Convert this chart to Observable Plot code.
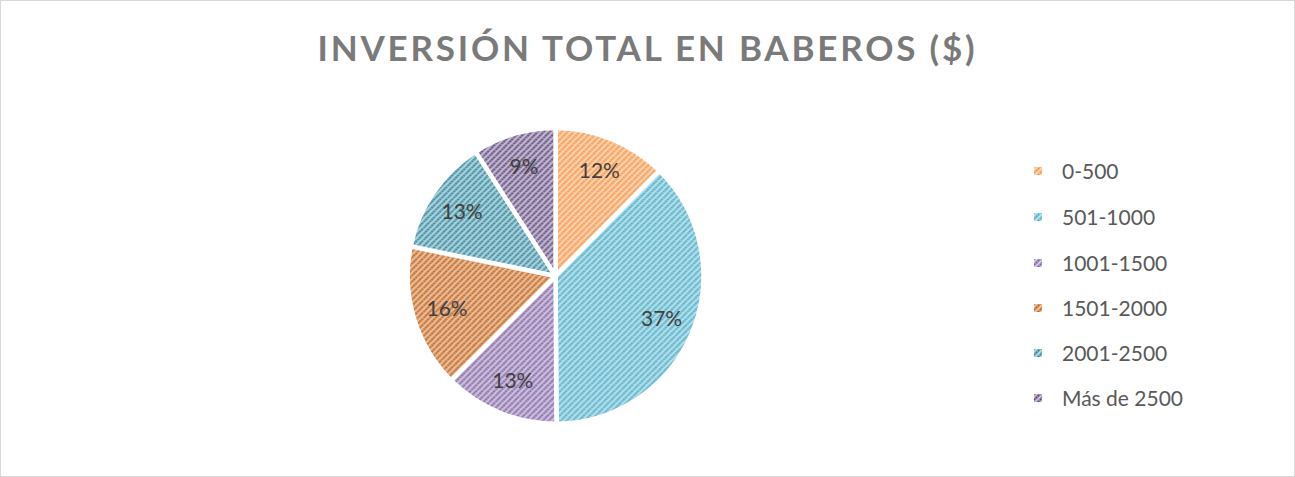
<!DOCTYPE html>
<html>
<head>
<meta charset="utf-8">
<script src="https://cdn.jsdelivr.net/npm/d3@7"></script>
<script src="https://cdn.jsdelivr.net/npm/@observablehq/plot@0.6"></script>
<style>
  html, body { margin: 0; padding: 0; background: #fff; }
  #chart { position: relative; width: 1293px; height: 475px; border: 1px solid #d9d9d9; overflow: hidden; font-family: Lato, "Open Sans", sans-serif; }
  #title { position: absolute; left: 0; top: 0; width: 1293px; height: 99px; text-align: center; line-height: 93px; font-size: 35px; font-weight: 700; letter-spacing: 2.8px; color: #7a7a7a; }
  #plot { position: absolute; left: -1px; top: 99px; }
  #legend { position: absolute; left: 1033px; top: 0; }
  .item { position: absolute; left: 0; white-space: nowrap; font-size: 21px; color: #595959; height: 26px; line-height: 26px; }
  .item svg { position: absolute; left: 0; top: 9px; }
  .item span { position: absolute; left: 28px; top: 0; }
</style>
</head>
<body>
<div id="chart">
  <div id="title">INVERSIÓN TOTAL EN BABEROS ($)</div>
  <div id="plot"></div>
  <div id="legend"></div>
</div>
<script>
const categories = ["0-500", "501-1000", "1001-1500", "1501-2000", "2001-2500", "Más de 2500"];
const values = [12.4, 37.5, 12.6, 15.7, 12.7, 9.1];
const labels = ["12%", "37%", "13%", "16%", "13%", "9%"];
const colors = ["#F79646", "#4BACC6", "#8064A2", "#C0621A", "#31859C", "#5F497A"];
const tints = ["#FDDCC2", "#C9E8F1", "#DCD2E8", "#F0CFB5", "#C3DFE6", "#D3CADF"];

const W = 1295, H = 377, CX = 556, CY = 176, R = 148;

const data = categories.map((c, i) => ({ category: c, value: values[i], label: labels[i], color: colors[i], tint: tints[i], i }));
const pie = d3.pie().value(d => d.value).sort(null)(data);
const labelR = 0.77;
pie.forEach(p => {
  const a = (p.startAngle + p.endAngle) / 2;
  p.data.lx = Math.sin(a) * labelR;
  p.data.ly = Math.cos(a) * labelR;
});

function slices(index, scales) {
  const sx = scales && scales.x ? scales.x : (v => CX + v * R);
  const sy = scales && scales.y ? scales.y : (v => CY - v * R);
  const cx = sx(0), cy = sy(0), r = sx(1) - sx(0);
  const g = d3.create("svg:g");
  const defs = g.append("defs");
  data.forEach((d, i) => {
    const p = defs.append("pattern").attr("id", "pat" + i)
      .attr("patternUnits", "userSpaceOnUse").attr("width", 6).attr("height", 6);
    p.append("rect").attr("width", 6).attr("height", 6).attr("fill", d.tint);
    const path = "M-1.5,1.5 L1.5,-1.5 M0,6 L6,0 M4.5,7.5 L7.5,4.5";
    p.append("path").attr("d", path).attr("stroke", d.color).attr("stroke-opacity", 0.5).attr("stroke-width", 3);
    p.append("path").attr("d", path).attr("stroke", d.color).attr("stroke-width", 1.8).attr("stroke-dasharray", "1.41,1.41");
  });
  const arc = d3.arc().innerRadius(0).outerRadius(r);
  g.append("g").attr("transform", `translate(${cx},${cy})`)
    .selectAll("path").data(pie).join("path")
    .attr("d", arc)
    .attr("fill", d => `url(#pat${d.data.i})`)
    .attr("stroke", "#fff").attr("stroke-width", 4.5).attr("stroke-linejoin", "round");
  return g.node();
}

const svg = Plot.plot({
  width: W, height: H,
  marginTop: 0, marginBottom: 0, marginLeft: 0, marginRight: 0,
  x: { domain: [-CX / R, (W - CX) / R], range: [0, W], axis: null },
  y: { domain: [-(H - CY) / R, CY / R], range: [H, 0], axis: null },
  style: { background: "transparent", overflow: "visible" },
  marks: [
    slices,
    Plot.text(data, { x: "lx", y: "ly", text: "label", fontSize: 21, fill: "#404040", fontFamily: "Lato, 'Open Sans', sans-serif" })
  ]
});
document.getElementById("plot").appendChild(svg);

const legendTops = [170, 216, 262, 307, 352, 397];
const legend = document.getElementById("legend");
data.forEach((d, i) => {
  const item = document.createElement("div");
  item.className = "item";
  item.style.top = (legendTops[i] - 13) + "px";
  item.innerHTML = `<svg width="8" height="8"><rect width="8" height="8" fill="url(#pat${i})"/></svg><span>${d.category}</span>`;
  legend.appendChild(item);
});
</script>
</body>
</html>
